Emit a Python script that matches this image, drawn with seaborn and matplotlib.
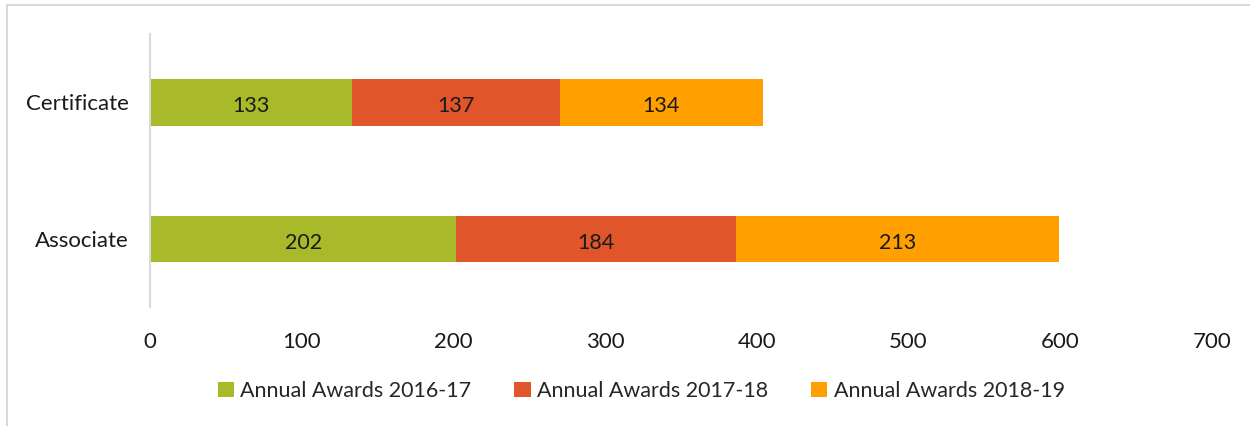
import numpy as np
import pandas as pd
import seaborn as sns
import matplotlib.pyplot as plt
from matplotlib.patches import Rectangle, Patch

categories = ["Certificate", "Associate"]
series_names = ["Annual Awards 2016-17", "Annual Awards 2017-18", "Annual Awards 2018-19"]
awards_2016_17 = [133, 202]
awards_2017_18 = [137, 184]
awards_2018_19 = [134, 213]
colors = ["#A8B92A", "#E0552A", "#FF9F00"]

sns.set_theme(style="white")
plt.rcParams['font.family'] = ['Lato', 'DejaVu Sans']

series = [awards_2016_17, awards_2017_18, awards_2018_19]
cum = np.cumsum(np.array(series), axis=0)

fig = plt.figure(figsize=(12.5, 4.26), dpi=100)
ax = fig.add_axes([0.12, 0.279, 0.8496, 0.641])

# stacked bars: draw cumulative totals from the largest down
for i in range(len(series) - 1, -1, -1):
    df = pd.DataFrame({"category": categories, "value": cum[i]})
    sns.barplot(data=df, y="category", x="value", color=colors[i],
                orient="h", width=0.34, saturation=1, ax=ax, linewidth=0)

# value labels in the centre of each segment
for i, vals in enumerate(series):
    for j, v in enumerate(vals):
        start = cum[i][j] - v
        ax.text(start + v / 2, j + 0.03, str(v), ha="center", va="center",
                fontsize=15.5, color="#1a1a1a")

ax.set_xlim(0, 700)
ax.set_ylim(1.5, -0.5)
ax.set_xticks(range(0, 701, 100))
ax.set_xlabel("")
ax.set_ylabel("")
ax.tick_params(axis="both", length=0, labelsize=16, colors="#1a1a1a")
ax.tick_params(axis="x", pad=18)
ax.tick_params(axis="y", pad=15)
for s in ["top", "right", "bottom"]:
    ax.spines[s].set_visible(False)
ax.spines["left"].set_color("#d9d9d9")
ax.spines["left"].set_linewidth(1.5)

handles = [Patch(facecolor=c, edgecolor="none") for c in colors]
fig.legend(handles, series_names, loc="center", bbox_to_anchor=(0.513, 0.082),
           ncol=3, frameon=False, fontsize=15.5, handlelength=0.75, handleheight=0.75,
           handletextpad=0.3, columnspacing=2.0)

# light outer border of the chart area
fig.patches.append(Rectangle((7 / 1250, -0.1), 1.2, 1 - 5 / 426 + 0.1,
                             transform=fig.transFigure, fill=False,
                             edgecolor="#d9d9d9", linewidth=1.5))

fig.savefig("out.png", dpi=100)
